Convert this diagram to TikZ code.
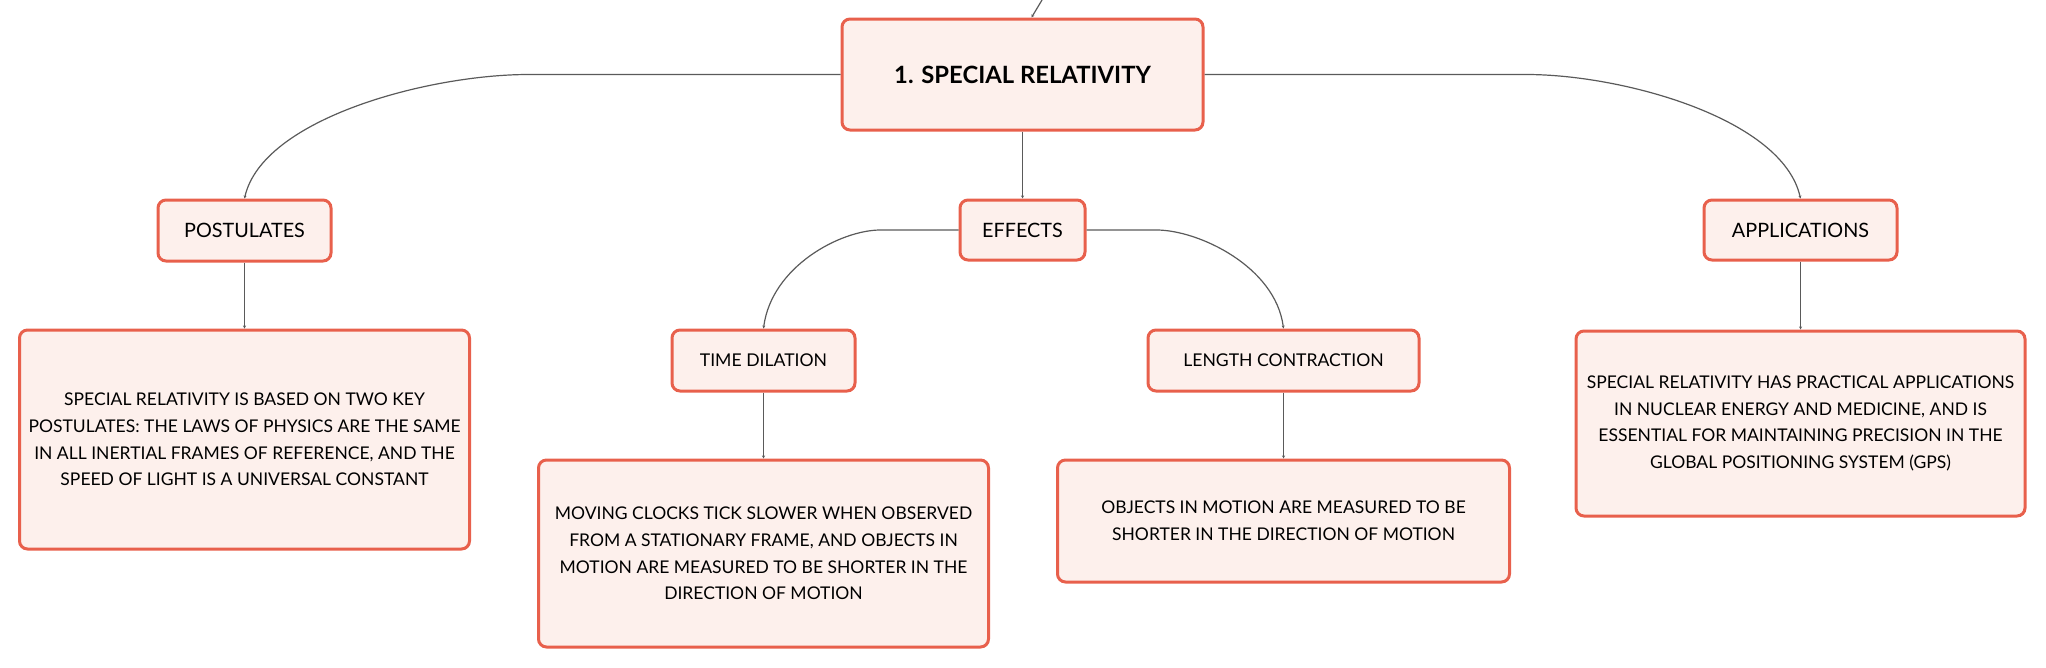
\documentclass[tikz,border=0pt]{standalone}
\usepackage{fontspec}
\setmainfont{Lato}
\usepackage{xcolor}
\usetikzlibrary{arrows.meta}
\definecolor{boxline}{HTML}{E8604C}
\definecolor{boxfill}{HTML}{FDF0EC}
\definecolor{linkgray}{HTML}{5A5A5A}
\begin{document}
\begin{tikzpicture}[x=1pt,y=-1pt,
    box/.style={draw=boxline,fill=boxfill,line width=3pt,rounded corners=8pt,inner sep=0pt,align=center},
    head/.style={box,font=\fontsize{19.8}{24}\selectfont},
    body/.style={box,font=\fontsize{17.5}{26.7}\selectfont},
    link/.style={draw=linkgray,line width=1.2pt,-{Stealth[length=3pt,width=3pt]}}]
    \useasboundingbox (0,0) rectangle (2046,667);
    % Main topic
    \node[box,minimum width=361pt,minimum height=111pt,font=\fontsize{23.8}{28}\selectfont\bfseries] (rel) at (1022.5,74.5) {1. SPECIAL RELATIVITY};
    \coordinate (up) at (1042,0);
    \draw[link] (up) -- ([xshift=9pt]rel.north);

    % Second level
    \node[head,minimum width=173pt,minimum height=61pt] (post) at (244.5,230.5) {POSTULATES};
    \node[head,minimum width=125pt,minimum height=60pt] (eff) at (1022.5,230) {EFFECTS};
    \node[head,minimum width=193pt,minimum height=60pt] (app) at (1800.5,230) {APPLICATIONS};

    % Effects branches
    \node[body,font=\fontsize{17.6}{22}\selectfont,minimum width=183pt,minimum height=61pt] (tdil) at (763.5,360.5) {TIME DILATION};
    \node[body,font=\fontsize{17.6}{22}\selectfont,minimum width=271pt,minimum height=61pt] (lcon) at (1283.5,360.5) {LENGTH CONTRACTION};

    % Descriptions
    \node[body,minimum width=450pt,minimum height=219pt] (postT) at (244.5,439.5) {SPECIAL RELATIVITY IS BASED ON TWO KEY\\POSTULATES: THE LAWS OF PHYSICS ARE THE SAME\\IN ALL INERTIAL FRAMES OF REFERENCE, AND THE\\SPEED OF LIGHT IS A UNIVERSAL CONSTANT};
    \node[body,minimum width=450pt,minimum height=187pt] (timeT) at (763.5,553.5) {MOVING CLOCKS TICK SLOWER WHEN OBSERVED\\FROM A STATIONARY FRAME, AND OBJECTS IN\\MOTION ARE MEASURED TO BE SHORTER IN THE\\DIRECTION OF MOTION};
    \node[body,minimum width=452pt,minimum height=122pt] (lenT) at (1283.5,521) {OBJECTS IN MOTION ARE MEASURED TO BE\\SHORTER IN THE DIRECTION OF MOTION};
    \node[body,minimum width=449pt,minimum height=185pt] (appT) at (1800.5,423.5) {SPECIAL RELATIVITY HAS PRACTICAL APPLICATIONS\\IN NUCLEAR ENERGY AND MEDICINE, AND IS\\ESSENTIAL FOR MAINTAINING PRECISION IN THE\\GLOBAL POSITIONING SYSTEM (GPS)};

    % Links
    \draw[link] (rel.west) -- ++(-312,0) .. controls +(-100,0) and +(18,-80) .. (post.north);
    \draw[link] (rel.east) -- ++(322,0) .. controls +(96,0) and +(-18,-80) .. (app.north);
    \draw[link] (rel) -- (eff);
    \draw[link] (eff.west) -- ++(-78,0) .. controls +(-40,0) and +(8,-62) .. (tdil.north);
    \draw[link] (eff.east) -- ++(70,0) .. controls +(42,0) and +(-8,-62) .. (lcon.north);
    \draw[link] (post) -- (postT);
    \draw[link] (tdil) -- (timeT);
    \draw[link] (lcon) -- (lenT);
    \draw[link] (app) -- (appT);
\end{tikzpicture}
\end{document}
